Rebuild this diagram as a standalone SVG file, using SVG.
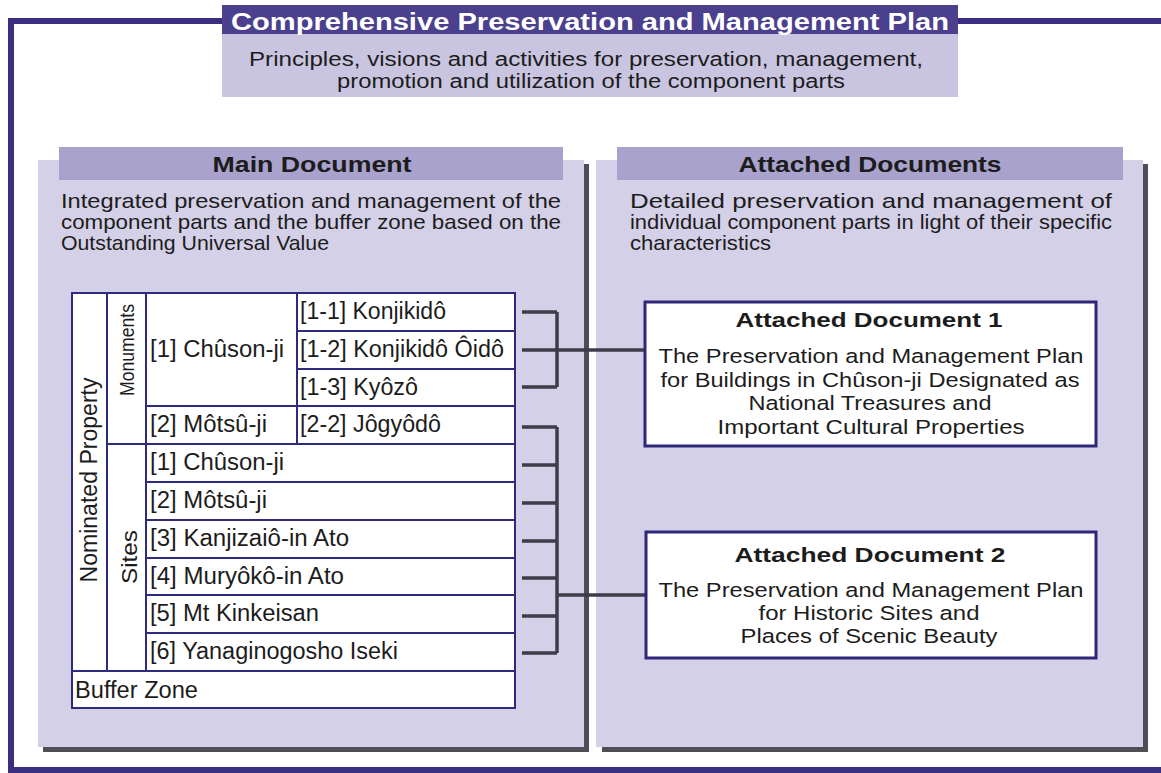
<svg xmlns="http://www.w3.org/2000/svg" width="1161" height="773" viewBox="0 0 1161 773">
<style>
text{font-family:"Liberation Sans",Arial,sans-serif;fill:#1c1c1c}
.b{font-weight:bold}
.hdr{fill:#a8a2cc}
.body{fill:#d4d0e7}
.shadow{fill:#4e4e56}
.cell{fill:#fff;stroke:#2f2a7e;stroke-width:2}
.doc{fill:#fff;stroke:#2e2679;stroke-width:3}
.conn{fill:none;stroke:#3c3c4a;stroke-width:3.5}
.t{font-size:23px}
.p{font-size:21px}
.d{font-size:20.5px}
</style>
<rect width="1161" height="773" fill="#fff"/>
<rect id="frame" x="11" y="21" width="1170" height="749" fill="#fff" stroke="#3a2e80" stroke-width="6"/>

<g id="title">
<rect x="222" y="5" width="736" height="29" fill="#4a408d"/>
<rect x="222" y="34" width="736" height="63" fill="#c9c5e1"/>
<text x="590" y="30" text-anchor="middle" class="b" font-size="23" style="fill:#fff" textLength="718" lengthAdjust="spacingAndGlyphs">Comprehensive Preservation and Management Plan</text>
<text x="586" y="66" text-anchor="middle" font-size="20" textLength="674" lengthAdjust="spacingAndGlyphs">Principles, visions and activities for preservation, management,</text>
<text x="591" y="88" text-anchor="middle" font-size="20" textLength="508" lengthAdjust="spacingAndGlyphs">promotion and utilization of the component parts</text>
</g>

<g id="main-panel">
<rect class="shadow" x="584" y="164" width="5" height="588"/>
<rect class="shadow" x="43" y="747" width="546" height="5"/>
<rect class="body" x="38" y="160" width="546" height="587"/>
<rect class="hdr" x="59" y="147" width="504" height="33"/>
<text x="312" y="172" text-anchor="middle" class="b" font-size="22" textLength="199" lengthAdjust="spacingAndGlyphs">Main Document</text>
<text x="61" y="208" class="p" textLength="500" lengthAdjust="spacingAndGlyphs">Integrated preservation and management of the</text>
<text x="61" y="229" class="p" textLength="500" lengthAdjust="spacingAndGlyphs">component parts and the buffer zone based on the</text>
<text x="61" y="250" class="p" textLength="268" lengthAdjust="spacingAndGlyphs">Outstanding Universal Value</text>
</g>

<g id="attached-panel">
<rect class="shadow" x="1143" y="164" width="5" height="588"/>
<rect class="shadow" x="602" y="747" width="546" height="5"/>
<rect class="body" x="596" y="160" width="547" height="587"/>
<rect class="hdr" x="617" y="147" width="506" height="33"/>
<text x="870" y="172" text-anchor="middle" class="b" font-size="22" textLength="263" lengthAdjust="spacingAndGlyphs">Attached Documents</text>
<text x="630" y="208" class="p" textLength="482" lengthAdjust="spacingAndGlyphs">Detailed preservation and management of</text>
<text x="630" y="229" class="p" textLength="482" lengthAdjust="spacingAndGlyphs">individual component parts in light of their specific</text>
<text x="630" y="250" class="p" textLength="141" lengthAdjust="spacingAndGlyphs">characteristics</text>
</g>

<g id="nominated-property">
<rect class="cell" x="72" y="293" width="35" height="378"/>
<text class="t" transform="translate(97,480) rotate(-90)" text-anchor="middle" font-size="22" textLength="205" lengthAdjust="spacingAndGlyphs">Nominated Property</text>
</g>
<g id="monuments">
<rect class="cell" x="107" y="293" width="39" height="151"/>
<text transform="translate(134,350) rotate(-90)" text-anchor="middle" font-size="21" textLength="92" lengthAdjust="spacingAndGlyphs">Monuments</text>
</g>
<g id="sites">
<rect class="cell" x="107" y="444" width="39" height="227"/>
<text transform="translate(137,557) rotate(-90)" text-anchor="middle" font-size="22" textLength="54" lengthAdjust="spacingAndGlyphs">Sites</text>
</g>
<g id="m-chuson">
<rect class="cell" x="146" y="293" width="151" height="113"/>
<text class="t" x="150" y="357" textLength="134" lengthAdjust="spacingAndGlyphs">[1] Chûson-ji</text>
</g>
<g id="m-1-1">
<rect class="cell" x="297" y="293" width="218" height="38"/>
<text class="t" x="300" y="319" textLength="146" lengthAdjust="spacingAndGlyphs">[1-1] Konjikidô</text>
</g>
<g id="m-1-2">
<rect class="cell" x="297" y="331" width="218" height="38"/>
<text class="t" x="300" y="357" textLength="204" lengthAdjust="spacingAndGlyphs">[1-2] Konjikidô Ôidô</text>
</g>
<g id="m-1-3">
<rect class="cell" x="297" y="369" width="218" height="37"/>
<text class="t" x="300" y="395" textLength="118" lengthAdjust="spacingAndGlyphs">[1-3] Kyôzô</text>
</g>
<g id="m-motsu">
<rect class="cell" x="146" y="406" width="151" height="38"/>
<text class="t" x="150" y="432" textLength="117" lengthAdjust="spacingAndGlyphs">[2] Môtsû-ji</text>
</g>
<g id="m-2-2">
<rect class="cell" x="297" y="406" width="218" height="38"/>
<text class="t" x="300" y="432" textLength="141" lengthAdjust="spacingAndGlyphs">[2-2] Jôgyôdô</text>
</g>
<g id="s-1">
<rect class="cell" x="146" y="444" width="369" height="38"/>
<text class="t" x="150" y="470" textLength="134" lengthAdjust="spacingAndGlyphs">[1] Chûson-ji</text>
</g>
<g id="s-2">
<rect class="cell" x="146" y="482" width="369" height="38"/>
<text class="t" x="150" y="508" textLength="117" lengthAdjust="spacingAndGlyphs">[2] Môtsû-ji</text>
</g>
<g id="s-3">
<rect class="cell" x="146" y="520" width="369" height="38"/>
<text class="t" x="150" y="546" textLength="199" lengthAdjust="spacingAndGlyphs">[3] Kanjizaiô-in Ato</text>
</g>
<g id="s-4">
<rect class="cell" x="146" y="558" width="369" height="37"/>
<text class="t" x="150" y="584" textLength="194" lengthAdjust="spacingAndGlyphs">[4] Muryôkô-in Ato</text>
</g>
<g id="s-5">
<rect class="cell" x="146" y="595" width="369" height="38"/>
<text class="t" x="150" y="621" textLength="169" lengthAdjust="spacingAndGlyphs">[5] Mt Kinkeisan</text>
</g>
<g id="s-6">
<rect class="cell" x="146" y="633" width="369" height="38"/>
<text class="t" x="150" y="659" textLength="248" lengthAdjust="spacingAndGlyphs">[6] Yanaginogosho Iseki</text>
</g>
<g id="buffer-zone">
<rect class="cell" x="72" y="671" width="443" height="37"/>
<text class="t" x="75" y="698" textLength="123" lengthAdjust="spacingAndGlyphs">Buffer Zone</text>
</g>

<g id="connectors">
<path class="conn" d="M522 312H557M522 350H557M522 387H557M557 312V387M557 350H645"/>
<path class="conn" d="M522 427H557M522 465H557M522 503H557M522 541H557M522 578H557M522 616H557M522 653H557M557 427V653M557 595H646"/>
</g>

<g id="attached-doc-1">
<rect class="doc" x="645" y="302" width="451" height="144"/>
<text x="869" y="327" text-anchor="middle" class="b" font-size="21" textLength="267" lengthAdjust="spacingAndGlyphs">Attached Document 1</text>
<text x="871" y="363" text-anchor="middle" class="d" textLength="425" lengthAdjust="spacingAndGlyphs">The Preservation and Management Plan</text>
<text x="870" y="387" text-anchor="middle" class="d" textLength="419" lengthAdjust="spacingAndGlyphs">for Buildings in Chûson-ji Designated as</text>
<text x="870" y="410" text-anchor="middle" class="d" textLength="243" lengthAdjust="spacingAndGlyphs">National Treasures and</text>
<text x="871" y="434" text-anchor="middle" class="d" textLength="307" lengthAdjust="spacingAndGlyphs">Important Cultural Properties</text>
</g>

<g id="attached-doc-2">
<rect class="doc" x="646" y="532" width="450" height="126"/>
<text x="870" y="562" text-anchor="middle" class="b" font-size="21" textLength="271" lengthAdjust="spacingAndGlyphs">Attached Document 2</text>
<text x="871" y="597" text-anchor="middle" class="d" textLength="425" lengthAdjust="spacingAndGlyphs">The Preservation and Management Plan</text>
<text x="869" y="620" text-anchor="middle" class="d" textLength="221" lengthAdjust="spacingAndGlyphs">for Historic Sites and</text>
<text x="869" y="643" text-anchor="middle" class="d" textLength="257" lengthAdjust="spacingAndGlyphs">Places of Scenic Beauty</text>
</g>
</svg>
